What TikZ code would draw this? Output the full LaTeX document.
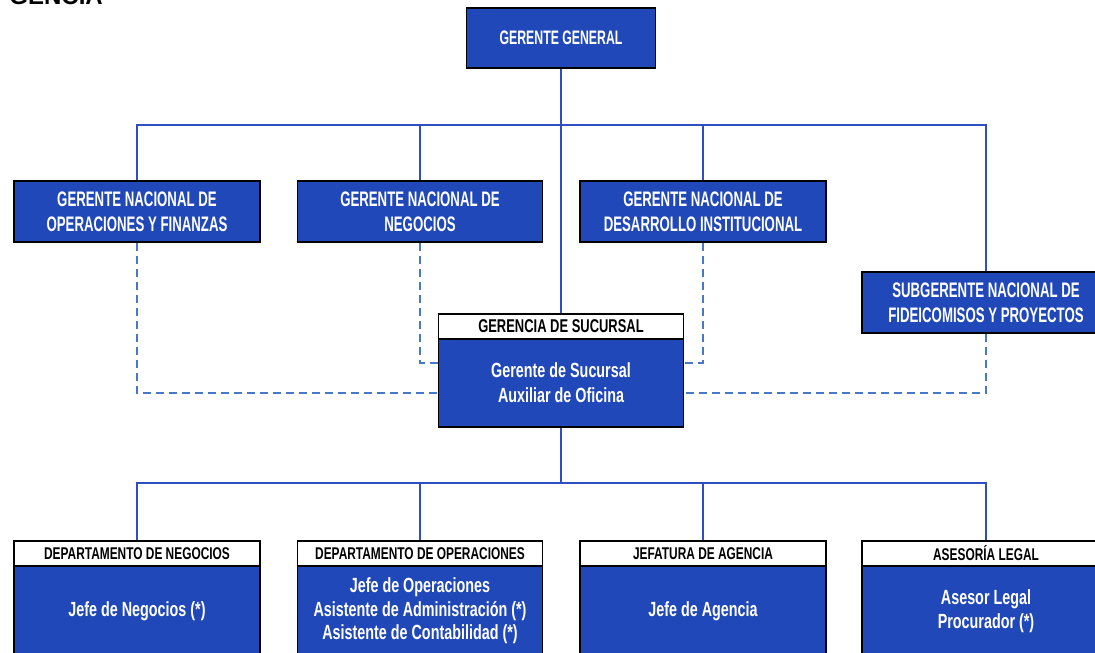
\documentclass[tikz,border=0pt]{standalone}
\usepackage{fontspec}
\setmainfont{Liberation Sans}[FakeStretch=0.63]
\newfontfamily\widefont{Liberation Sans}[FakeStretch=0.7]
\newfontfamily\titlefont{Liberation Sans}
\definecolor{boxblue}{RGB}{33,72,184}
\definecolor{lineblue}{RGB}{47,78,194}
\definecolor{dashblue}{RGB}{74,120,200}
\begin{document}
\begin{tikzpicture}[x=1pt,y=-1pt,
  bluebox/.style={draw=black,line width=1.6pt,fill=boxblue,text=white,align=center,inner sep=0pt,font=\bfseries\fontsize{21}{25}\selectfont},
  lowbox/.style={bluebox,font=\widefont\bfseries\fontsize{20.5}{24}\selectfont},
  headbox/.style={draw=black,line width=1.6pt,fill=white,text=black,align=center,inner sep=0pt,minimum height=25pt,font=\widefont\bfseries\fontsize{17}{18}\selectfont},
  solidline/.style={draw=lineblue,line width=1.8pt},
  dashline/.style={draw=dashblue,line width=1.8pt,dash pattern=on 8pt off 5pt}]
\useasboundingbox (0,0) rectangle (1095,653);
\clip (0,0) rectangle (1095,653);
% title (cut off at top edge as in the reference)
\node[anchor=base east,inner sep=0pt,font=\titlefont\bfseries\fontsize{24}{24}\selectfont] (title) at (103,5) {GENCIA};
% top
\node[bluebox,minimum width=189pt,minimum height=60pt,font=\bfseries\fontsize{19.5}{21}\selectfont] (gg) at (561,38) {GERENTE GENERAL};
\node[bluebox,minimum width=246pt,minimum height=61pt] (n1) at (137,211.5) {GERENTE NACIONAL DE\\OPERACIONES Y FINANZAS};
\node[bluebox,minimum width=245pt,minimum height=61pt] (n2) at (420,211.5) {GERENTE NACIONAL DE\\NEGOCIOS};
\node[bluebox,minimum width=246pt,minimum height=61pt] (n3) at (703,211.5) {GERENTE NACIONAL DE\\DESARROLLO INSTITUCIONAL};
\node[bluebox,minimum width=248pt,minimum height=61pt] (sub) at (986,302.5) {SUBGERENTE NACIONAL DE\\FIDEICOMISOS Y PROYECTOS};
% sucursal
\node[lowbox,minimum width=245pt,minimum height=88pt,font=\widefont\bfseries\fontsize{20.5}{25}\selectfont] (sucB) at (561,383) {Gerente de Sucursal\\Auxiliar de Oficina};
\node[headbox,minimum width=245pt,font=\widefont\bfseries\fontsize{18.5}{20}\selectfont] (sucH) at (561,326.5) {GERENCIA DE SUCURSAL};
% bottom
\node[lowbox,minimum width=246pt,minimum height=90pt] (b1B) at (137,611) {Jefe de Negocios (*)};
\node[headbox,minimum width=246pt] (b1H) at (137,553.5) {DEPARTAMENTO DE NEGOCIOS};
\node[lowbox,minimum width=245pt,minimum height=90pt,font=\widefont\bfseries\fontsize{20.5}{23.5}\selectfont] (b2B) at (420,611) {Jefe de Operaciones\\Asistente de Administración (*)\\Asistente de Contabilidad (*)};
\node[headbox,minimum width=245pt] (b2H) at (420,553.5) {DEPARTAMENTO DE OPERACIONES};
\node[lowbox,minimum width=246pt,minimum height=90pt] (b3B) at (703,611) {Jefe de Agencia};
\node[headbox,minimum width=246pt] (b3H) at (703,553.5) {JEFATURA DE AGENCIA};
\node[lowbox,minimum width=248pt,minimum height=90pt,font=\widefont\bfseries\fontsize{20.5}{23.5}\selectfont] (b4B) at (986,611) {Asesor Legal\\Procurador (*)};
\node[headbox,minimum width=248pt] (b4H) at (986,553.5) {ASESORÍA LEGAL};
% helper coordinates
\coordinate (top) at (561,125);
\coordinate (bot) at (561,483);
\coordinate (yA) at (0,363);
\coordinate (yB) at (0,393);
% solid connectors
\draw[solidline] (gg.south) -- (sucH.north);
\draw[solidline] (n1.north) |- (top) -| (sub.north);
\draw[solidline] (n2.north) -- (n2.north |- top);
\draw[solidline] (n3.north) -- (n3.north |- top);
\draw[solidline] (sucB.south) -- (bot);
\draw[solidline] (b1H.north) |- (bot) -| (b4H.north);
\draw[solidline] (b2H.north) -- (b2H.north |- bot);
\draw[solidline] (b3H.north) -- (b3H.north |- bot);
% dashed connectors
\draw[dashline] (n1.south) |- (sucB.west |- yB);
\draw[dashline] (n2.south) |- (sucB.west |- yA);
\draw[dashline] (n3.south) |- (sucB.east |- yA);
\draw[dashline] (sub.south) |- (sucB.east |- yB);
\end{tikzpicture}
\end{document}
